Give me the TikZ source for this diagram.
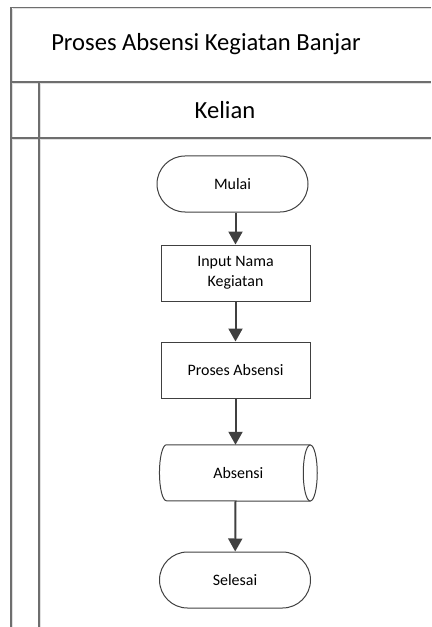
\documentclass[tikz,border=0pt]{standalone}
\usepackage{fontspec}
\setmainfont{Carlito}
\usetikzlibrary{arrows.meta,positioning}
\definecolor{lanegray}{HTML}{6E6E6E}
\definecolor{shapegray}{HTML}{404040}
\tikzset{
	lane/.style={draw=lanegray, line width=0.45mm},
	laneshadow/.style={draw=black!12, line width=0.3mm},
	terminal/.style={draw=shapegray, line width=0.3mm, minimum width=45.3mm,
		minimum height=16.8mm, rounded corners=8.4mm, font=\fontsize{13.6}{17}\selectfont},
	process/.style={draw=shapegray, line width=0.3mm, minimum width=44.7mm,
		minimum height=16.8mm, align=center, font=\fontsize{13.6}{17}\selectfont},
	storedata/.style={minimum width=43mm, minimum height=16.8mm, inner sep=0pt,
		font=\fontsize{13.6}{17}\selectfont},
	flow/.style={->, draw=shapegray, line width=0.6mm}
}
\begin{document}
\begin{tikzpicture}[x=0.3mm, y=0.3mm, >={Triangle[length=3.9mm, width=4.2mm]},
		every node/.style={text=black}]
	\useasboundingbox (0,0) rectangle (431,-627);
	% swimlane
	\draw[laneshadow] (12.5,-9) -- (431,-9);
	\draw[laneshadow] (12.5,-83.5) -- (431,-83.5);
	\draw[laneshadow] (12.5,-139.5) -- (431,-139.5);
	\draw[laneshadow] (12.5,-9) -- (12.5,-627);
	\draw[laneshadow] (40.5,-83.5) -- (40.5,-627);
	\draw[lane] (11,-7.5) -- (431,-7.5);
	\draw[lane] (11,-82) -- (431,-82);
	\draw[lane] (11,-138) -- (431,-138);
	\draw[lane] (11,-7.5) -- (11,-627);
	\draw[lane] (39,-82) -- (39,-627);
	\node[font=\fontsize{21}{25}\selectfont] (judul) at (206,-44) {Proses Absensi Kegiatan Banjar};
	\node[font=\fontsize{21}{25}\selectfont] (kelian) at (225,-110) {Kelian};
	% flowchart
	\node[terminal] (mulai) at (232.5,-184) {Mulai};
	\node[process] (input) at (235.5,-273) {Input Nama\\Kegiatan};
	\node[process] (proses) at (235.5,-370) {Proses Absensi};
	\node[storedata] (absensi) at (238.35,-473) {Absensi};
	\draw[draw=shapegray, line width=0.3mm] (absensi.north east) -- (absensi.north west)
		arc[start angle=90, end angle=270, x radius=2.1mm, y radius=8.4mm] -- (absensi.south east);
	\draw[draw=shapegray, line width=0.3mm] (absensi.east) ellipse[x radius=2.1mm, y radius=8.4mm];
	\node[terminal] (selesai) at (235,-580) {Selesai};
	\draw[flow] (mulai.south -| input.north) -- (input);
	\draw[flow] (input) -- (proses);
	\draw[flow] (proses) -- (absensi.north -| proses.south);
	\draw[flow] (absensi.south -| proses.south) -- (selesai);
\end{tikzpicture}
\end{document}
